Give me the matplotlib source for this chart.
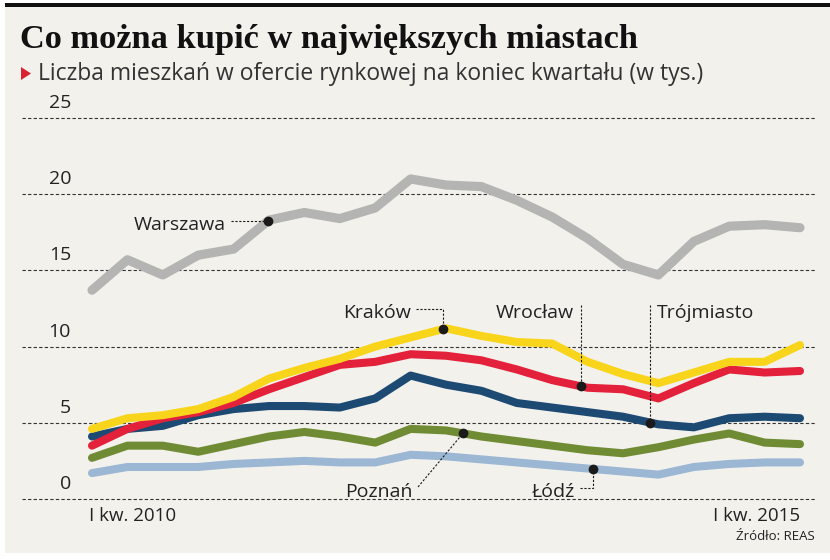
import numpy as np
import matplotlib
matplotlib.use('Agg')
import matplotlib.pyplot as plt
from matplotlib.patches import Rectangle, Polygon

# kwartaly od I kw. 2010 do I kw. 2015 (21 punktow), wartosci w tys. mieszkan
kwartaly = np.arange(21)
warszawa = [13.7, 15.7, 14.7, 16.0, 16.4, 18.3, 18.8, 18.4, 19.1, 21.0, 20.6,
            20.5, 19.6, 18.5, 17.1, 15.4, 14.7, 16.9, 17.9, 18.0, 17.8]
krakow = [4.6, 5.3, 5.5, 5.9, 6.7, 7.9, 8.6, 9.2, 10.0, 10.6, 11.2,
          10.7, 10.3, 10.2, 9.0, 8.2, 7.6, 8.3, 9.0, 9.0, 10.1]
wroclaw = [3.5, 4.6, 5.3, 5.7, 6.3, 7.2, 8.0, 8.8, 9.0, 9.5, 9.4,
           9.1, 8.5, 7.8, 7.3, 7.2, 6.6, 7.6, 8.5, 8.3, 8.4]
trojmiasto = [4.1, 4.6, 4.8, 5.5, 5.9, 6.1, 6.1, 6.0, 6.6, 8.1, 7.5,
              7.1, 6.3, 6.0, 5.7, 5.4, 4.9, 4.7, 5.3, 5.4, 5.3]
poznan = [2.7, 3.5, 3.5, 3.1, 3.6, 4.1, 4.4, 4.1, 3.7, 4.6, 4.5,
          4.1, 3.8, 3.5, 3.2, 3.0, 3.4, 3.9, 4.3, 3.7, 3.6]
lodz = [1.7, 2.1, 2.1, 2.1, 2.3, 2.4, 2.5, 2.4, 2.4, 2.9, 2.8,
        2.6, 2.4, 2.2, 2.0, 1.8, 1.6, 2.1, 2.3, 2.4, 2.4]

y_ticks = [0, 5, 10, 15, 20, 25]
x_labels = ['I kw. 2010', 'I kw. 2015']

title = 'Co można kupić w największych miastach'
subtitle = 'Liczba mieszkań w ofercie rynkowej na koniec kwartału (w tys.)'
source = 'Źródło: REAS'

W, H, DPI = 830, 560, 100
BG = '#f3f1ec'
TXT = '#222222'
SANS = ['Open Sans', 'DejaVu Sans']

fig = plt.figure(figsize=(W / DPI, H / DPI), dpi=DPI, facecolor='white')


def fx(px):
    return px / W


def fy(py):
    return 1 - py / H


# tlo i czarny pasek u gory
fig.patches.append(Rectangle((fx(5), fy(553)), 825 / W, 546 / H, transform=fig.transFigure,
                             facecolor=BG, edgecolor='none', zorder=-10))
fig.patches.append(Rectangle((fx(5), fy(7)), 825 / W, 4 / H, transform=fig.transFigure,
                             facecolor='#111111', edgecolor='none', zorder=-9))

# os: pierwszy kwartal na 92 px, ostatni na 800 px, 0 na 499 px, 25 na 118 px
AX_L, AX_R, AX_T, AX_B = 22, 815, 118, 499


def qx(px):
    return (px - 92) * 20 / 708


def vy(py):
    return (AX_B - py) * 25 / (AX_B - AX_T)


ax = fig.add_axes([fx(AX_L), fy(AX_B), (AX_R - AX_L) / W, (AX_B - AX_T) / H])
ax.set_xlim(qx(AX_L), qx(AX_R))
ax.set_ylim(0, 25)
ax.axis('off')

for v in y_ticks:
    ax.axhline(v, color='#333333', lw=0.8, ls=(0, (3, 2)), zorder=1, clip_on=False)
    ax.text(qx(71), v + 10 * 25 / (AX_B - AX_T), str(v), ha='right', va='baseline',
            fontsize=14, color=TXT, family=SANS)

series = [
    (warszawa, '#b4b4b2', 6.6),
    (lodz, '#9bb7d4', 5.8),
    (poznan, '#6f8b33', 5.8),
    (trojmiasto, '#1d4a73', 5.8),
    (wroclaw, '#e3213b', 5.8),
    (krakow, '#f8d51b', 5.8),
]
for vals, col, lw in series:
    ax.plot(kwartaly, vals, color=col, lw=lw, solid_capstyle='round',
            solid_joinstyle='round', zorder=3)


def dot(vals, q):
    v = np.interp(q, kwartaly, vals)
    ax.plot([q], [v], 'o', color='#1a1a1a', ms=6, zorder=6)
    return q, v


lead = dict(color='#1a1a1a', lw=0.8, ls=(0, (2, 1.5)), zorder=5)
lab = dict(fontsize=14, color=TXT, family=SANS, zorder=7)

# Warszawa
q, v = dot(warszawa, qx(268))
ax.plot([qx(231), q], [v, v], **lead)
ax.text(qx(226), vy(225), 'Warszawa', ha='right', va='center', **lab)

# Kraków
q, v = dot(krakow, qx(443))
ax.plot([qx(416), q, q], [vy(309), vy(309), v], **lead)
ax.text(qx(411), vy(313), 'Kraków', ha='right', va='center', **lab)

# Wrocław
q, v = dot(wroclaw, qx(581))
ax.plot([q, q], [vy(305), v], **lead)
ax.text(qx(574), vy(313), 'Wrocław', ha='right', va='center', **lab)

# Trójmiasto
q, v = dot(trojmiasto, qx(650))
ax.plot([q, q], [vy(305), v], **lead)
ax.text(qx(657), vy(313), 'Trójmiasto', ha='left', va='center', **lab)

# Poznań
q, v = dot(poznan, qx(463))
ax.plot([qx(418), q], [vy(487), v], **lead)
ax.text(qx(413), vy(497), 'Poznań', ha='right', va='baseline', **lab)

# Łódź
q, v = dot(lodz, qx(593))
ax.plot([qx(580), q, q], [vy(488), vy(488), v], **lead)
ax.text(qx(575), vy(497), 'Łódź', ha='right', va='baseline', **lab)

# etykiety osi x
ax.text(qx(89), vy(521), x_labels[0], ha='left', va='baseline', fontsize=13.5,
        color=TXT, family=SANS, clip_on=False)
ax.text(qx(800), vy(521), x_labels[1], ha='right', va='baseline', fontsize=13.5,
        color=TXT, family=SANS, clip_on=False)
fig.text(fx(815), fy(540), source, ha='right', va='baseline', fontsize=9.5,
         color=TXT, family=SANS)

# tytul i podtytul, dopasowane do szerokosci
t1 = fig.text(fx(20), fy(48), title, ha='left', va='baseline', fontsize=24,
              fontweight='bold', color='#111111', family=['Liberation Serif', 'DejaVu Serif'])
t2 = fig.text(fx(38), fy(80), subtitle, ha='left', va='baseline', fontsize=13,
              color='#333333', family=SANS)
fig.patches.append(Polygon([(fx(21), fy(67)), (fx(21), fy(80)), (fx(31), fy(73.5))],
                           closed=True, transform=fig.transFigure,
                           facecolor='#d8232f', edgecolor='none'))

r = fig.canvas.get_renderer()
for t, target in [(t1, 620), (t2, 662)]:
    w = t.get_window_extent(r).width
    t.set_fontsize(t.get_fontsize() * target / w)

fig.savefig('out.png', dpi=DPI, facecolor='white')
